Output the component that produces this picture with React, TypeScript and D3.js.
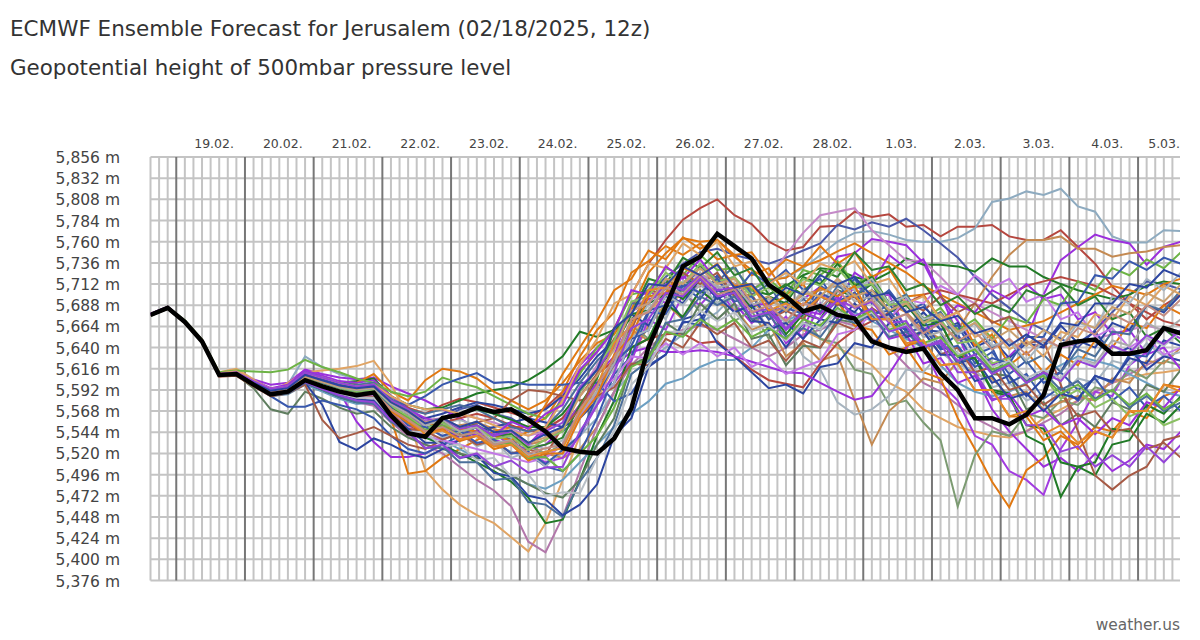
import React from 'react';
import * as d3 from 'd3';

const titleText = 'ECMWF Ensemble Forecast for Jerusalem (02/18/2025, 12z)';
const subtitleText = 'Geopotential height of 500mbar pressure level';
const creditText = 'weather.us';

const yTickValues = [5376, 5400, 5424, 5448, 5472, 5496, 5520, 5544, 5568, 5592, 5616, 5640, 5664, 5688, 5712, 5736, 5760, 5784, 5808, 5832, 5856];
const dayLabels = ['19.02.', '20.02.', '21.02.', '22.02.', '23.02.', '24.02.', '25.02.', '26.02.', '27.02.', '28.02.', '1.03.', '2.03.', '3.03.', '4.03.', '5.03.'];
// hours after first forecast point at which each labelled day starts
const dayStartHours = [9, 33, 57, 81, 105, 129, 153, 177, 201, 225, 249, 273, 297, 321, 345];
const stepHours = 6;
const totalHours = 360;

const control = [5677,5685,5669,5647,5609,5610,5598,5587,5590,5603,5596,5590,5586,5589,5563,5543,5539,5560,5564,5572,5567,5570,5558,5545,5526,5522,5520,5537,5571,5641,5686,5732,5743,5769,5755,5741,5711,5698,5681,5687,5677,5673,5647,5640,5635,5639,5611,5592,5560,5560,5553,5564,5586,5643,5647,5649,5633,5633,5637,5662,5656];

const members: number[][] = [
  [5678,5686,5670,5649,5611,5612,5602,5592,5595,5608,5603,5598,5596,5600, 5585,5572,5565,5575,5582,5578,5572,5566,5560,5572,5590,5612,5635, 5662,5700,5735,5762,5785,5798,5808, 5790,5780,5760,5750,5754,5777,5778,5794,5788,5791,5777,5779, 5766,5777,5777,5779,5766,5762,5762,5773,5754,5735,5709,5690,5672,5688,5700],
  [5677,5685,5670,5648,5610,5612,5601,5592,5598,5630,5618,5610,5604,5600, 5578,5560,5552,5548,5545,5540,5530,5522,5515,5510,5520,5540,5560, 5590,5610,5625,5640,5655,5668,5680, 5700,5705,5715,5720,5730,5745,5760,5770,5772,5768,5762,5760, 5760,5764,5775,5805,5809,5817,5813,5820,5800,5794,5766,5759,5759,5773,5772],
  [5677,5684,5669,5647,5609,5611,5599,5588,5592,5606,5600,5594,5590,5592, 5570,5555,5548,5560,5570,5575,5565,5560,5548,5540,5545,5560,5590, 5630,5670,5700,5720,5735,5748,5752, 5745,5740,5735,5742,5750,5758,5779,5774,5782,5777,5786,5773, 5758,5742,5720,5700,5685,5670,5660,5650,5640,5660,5680,5700,5715,5712,5706],
  [5678,5686,5670,5648,5611,5612,5604,5598,5600,5615,5610,5606,5604,5606, 5596,5588,5580,5570,5560,5548,5540,5535,5530,5550,5585,5620,5640, 5660,5680,5695,5700,5705,5710,5705, 5698,5690,5680,5686,5695,5709,5743,5747,5763,5760,5756,5736, 5698,5670,5640,5620,5630,5650,5700,5739,5754,5768,5762,5758,5734,5754,5760],
  [5676,5685,5669,5647,5610,5612,5600,5590,5592,5605,5598,5590,5585,5585, 5560,5545,5540,5548,5552,5555,5548,5540,5530,5520,5515,5525,5550, 5590,5630,5665,5690,5700,5710,5715, 5700,5690,5680,5685,5700,5705,5710,5705,5700,5690,5680,5660, 5650,5660,5690,5720,5745,5762,5762,5766,5752,5752,5743,5747,5749,5754,5756],
  [5677,5685,5669,5647,5609,5610,5600,5591,5593,5608,5604,5600,5602,5605, 5585,5575,5570,5572,5580,5588,5592,5595,5603,5615,5630,5658,5652, 5660,5672,5690,5700,5712,5718,5720, 5712,5705,5700,5710,5722,5730,5728,5720,5715,5725,5741,5734, 5734,5732,5726,5741,5732,5732,5720,5712,5705,5700,5695,5700,5710,5715,5712],
  [5677,5685,5669,5647,5610,5613,5602,5592,5596,5610,5604,5598,5600,5610, 5590,5580,5603,5616,5613,5605,5590,5580,5570,5580,5600,5625,5645, 5655,5683,5725,5747,5764,5760,5762, 5743,5728,5717,5719,5732,5739,5749,5758,5747,5736,5725,5710, 5700,5690,5680,5670,5660,5665,5670,5680,5690,5700,5710,5705,5700,5712,5718],
  [5677,5686,5670,5648,5612,5616,5604,5590,5600,5612,5614,5616,5619,5625, 5599,5560,5501,5479,5462,5450,5441,5425,5409,5441,5490,5540,5580, 5620,5650,5680,5700,5715,5720,5718, 5700,5690,5680,5670,5660,5650,5640,5630,5620,5600,5590,5570, 5560,5550,5545,5540,5538,5545,5560,5570,5580,5590,5600,5605,5610,5612,5615],
  [5677,5685,5669,5647,5608,5609,5597,5586,5588,5600,5592,5585,5578,5574, 5555,5540,5530,5520,5505,5490,5478,5460,5420,5408,5448,5500,5550, 5590,5620,5640,5655,5660,5665,5660, 5650,5640,5630,5640,5655,5660,5670,5665,5650,5640,5620,5600, 5590,5575,5560,5550,5540,5545,5555,5565,5580,5590,5600,5610,5620,5630,5625],
  [5678,5686,5670,5648,5611,5612,5602,5593,5597,5612,5606,5600,5596,5598, 5580,5565,5558,5560,5565,5560,5555,5548,5540,5545,5560,5590,5620, 5650,5680,5700,5715,5720,5722,5718, 5712,5705,5720,5745,5770,5790,5794,5798,5773,5756,5739,5738, 5720,5700,5690,5680,5670,5660,5650,5640,5645,5650,5655,5660,5665,5660,5655],
  [5677,5685,5669,5647,5609,5611,5600,5590,5596,5615,5605,5590,5556,5533, 5516,5516,5520,5530,5535,5540,5542,5530,5520,5515,5530,5560,5610, 5630,5690,5705,5690,5722,5700,5718, 5690,5668,5680,5645,5662,5700,5690,5725,5712,5745,5730,5740, 5700,5655,5610,5570,5545,5525,5505,5515,5500,5520,5500,5512,5530,5525,5545],
  [5677,5685,5669,5647,5610,5611,5601,5592,5594,5610,5605,5598,5594,5598, 5580,5565,5555,5548,5545,5540,5535,5530,5520,5510,5515,5540,5575, 5600,5625,5672,5660,5700,5688,5710, 5680,5690,5660,5675,5650,5690,5672,5712,5695,5700,5660,5640, 5600,5580,5540,5530,5500,5490,5473,5525,5555,5590,5585,5620,5635,5660,5650],
  [5676,5684,5668,5646,5608,5609,5597,5588,5590,5604,5597,5590,5587,5590, 5560,5497,5500,5515,5525,5535,5545,5550,5550,5560,5590,5630,5660, 5680,5725,5738,5755,5745,5758,5740, 5745,5722,5730,5700,5712,5680,5692,5665,5660,5632,5640,5612, 5605,5560,5525,5488,5459,5501,5515,5540,5530,5550,5545,5568,5560,5585,5592],
  [5677,5685,5669,5647,5609,5610,5599,5589,5591,5606,5600,5595,5591,5593, 5575,5560,5555,5552,5548,5545,5540,5535,5528,5520,5530,5560,5600, 5625,5665,5650,5688,5705,5680,5698, 5670,5682,5650,5668,5675,5650,5645,5615,5610,5575,5580,5555, 5535,5460,5518,5545,5540,5565,5560,5580,5575,5595,5590,5615,5605,5625,5620],
  [5677,5685,5669,5647,5609,5610,5598,5588,5590,5603,5597,5590,5586,5588, 5568,5550,5545,5548,5550,5545,5540,5535,5530,5535,5550,5575,5600, 5620,5660,5648,5690,5672,5705,5690, 5685,5660,5668,5630,5645,5625,5632,5580,5530,5568,5585,5605, 5600,5625,5610,5605,5585,5590,5570,5578,5585,5580,5605,5600,5625,5622,5640],
  [5677,5685,5669,5647,5609,5610,5600,5590,5592,5605,5600,5595,5592,5595, 5575,5560,5552,5555,5558,5552,5545,5538,5530,5525,5535,5560,5595, 5615,5655,5690,5672,5715,5700,5712, 5685,5692,5660,5668,5630,5615,5578,5564,5570,5585,5615,5612, 5635,5620,5615,5595,5600,5580,5588,5585,5605,5600,5625,5620,5645,5630,5635],
  [5676,5684,5668,5646,5608,5609,5597,5585,5587,5598,5590,5582,5576,5578, 5560,5545,5538,5535,5525,5515,5505,5495,5485,5480,5490,5510,5530, 5550,5565,5579,5599,5605,5618,5626, 5626,5640,5660,5670,5680,5685,5690,5680,5670,5660,5650,5640, 5620,5600,5590,5585,5590,5600,5610,5620,5630,5625,5620,5610,5600,5590,5585],
  [5677,5685,5669,5647,5609,5610,5599,5589,5590,5602,5596,5589,5585,5586, 5565,5550,5545,5555,5560,5565,5560,5552,5545,5548,5560,5585,5610, 5625,5640,5650,5655,5656,5645,5647, 5630,5615,5603,5599,5595,5622,5645,5660,5670,5680,5690,5700, 5705,5700,5695,5690,5700,5710,5715,5720,5715,5710,5700,5690,5680,5670,5665],
  [5677,5685,5669,5647,5609,5610,5600,5591,5594,5608,5603,5598,5594,5596, 5578,5565,5560,5565,5572,5578,5575,5570,5565,5570,5585,5605,5630, 5648,5678,5665,5700,5672,5678,5645, 5630,5612,5594,5598,5588,5618,5622,5645,5640,5668,5660,5680, 5660,5668,5640,5650,5628,5645,5640,5665,5645,5658,5632,5640,5615,5630,5625],
  [5678,5686,5670,5648,5610,5612,5603,5594,5598,5614,5608,5602,5600,5603, 5585,5570,5560,5555,5548,5540,5535,5530,5525,5530,5548,5575,5600, 5620,5635,5640,5635,5635,5637,5635, 5630,5624,5618,5612,5611,5600,5590,5581,5585,5610,5640,5660, 5670,5688,5680,5705,5695,5712,5695,5700,5672,5680,5655,5660,5632,5640,5615],
  [5678,5686,5671,5649,5612,5614,5613,5612,5615,5626,5618,5612,5605,5600, 5590,5585,5590,5606,5600,5595,5585,5575,5565,5560,5580,5610,5640, 5660,5700,5705,5730,5722,5745,5728, 5730,5705,5718,5700,5728,5722,5738,5712,5722,5690,5700,5672, 5685,5660,5672,5650,5675,5668,5695,5688,5715,5705,5730,5722,5740,5730,5748],
  [5677,5685,5669,5647,5609,5610,5597,5586,5588,5600,5592,5584,5578,5578, 5560,5545,5538,5530,5520,5510,5500,5488,5470,5441,5445,5490,5540, 5580,5640,5650,5690,5675,5705,5690, 5700,5670,5685,5655,5678,5672,5705,5698,5712,5680,5688,5665, 5668,5630,5628,5590,5585,5552,5548,5510,5505,5495,5530,5535,5565,5555,5575],
  [5677,5685,5669,5647,5608,5609,5594,5570,5565,5590,5582,5572,5565,5568, 5550,5538,5530,5525,5520,5515,5505,5495,5485,5475,5470,5490,5530, 5560,5620,5630,5668,5655,5690,5672, 5690,5650,5655,5620,5642,5640,5672,5668,5700,5680,5698,5672, 5680,5650,5648,5610,5608,5570,5578,5552,5565,5550,5578,5570,5598,5590,5615],
  [5677,5685,5669,5647,5609,5610,5598,5585,5573,5573,5580,5575,5570,5560, 5540,5525,5520,5530,5540,5550,5545,5535,5520,5505,5500,5520,5560, 5610,5630,5680,5678,5710,5695,5722, 5700,5712,5680,5692,5678,5710,5698,5718,5690,5705,5680,5690, 5660,5665,5632,5640,5600,5610,5582,5595,5580,5608,5600,5632,5630,5662,5658],
  [5677,5685,5669,5647,5609,5610,5598,5587,5590,5600,5575,5533,5524,5537, 5530,5520,5515,5525,5535,5545,5550,5555,5560,5555,5550,5560,5580, 5600,5650,5660,5700,5690,5718,5695, 5705,5670,5668,5640,5668,5660,5690,5680,5705,5690,5698,5660, 5658,5622,5628,5600,5608,5585,5605,5612,5648,5640,5668,5660,5688,5680,5700],
  [5677,5684,5668,5646,5607,5608,5596,5585,5588,5598,5558,5537,5543,5550, 5540,5530,5525,5535,5545,5555,5560,5580,5592,5590,5585,5580,5585, 5595,5622,5620,5650,5640,5668,5655, 5668,5640,5648,5625,5648,5640,5668,5660,5685,5672,5692,5682, 5698,5680,5690,5668,5675,5645,5648,5598,5545,5495,5479,5495,5505,5535,5540],
  [5677,5685,5669,5648,5610,5611,5600,5591,5594,5608,5604,5598,5596,5598, 5580,5575,5585,5598,5605,5611,5600,5601,5598,5598,5598,5600,5600, 5579,5588,5620,5632,5670,5665,5705, 5700,5725,5712,5728,5705,5718,5690,5702,5675,5690,5662,5672, 5640,5655,5622,5635,5610,5625,5600,5612,5592,5605,5580,5595,5572,5585,5568],
  [5677,5685,5669,5647,5609,5610,5599,5590,5592,5604,5600,5594,5592,5595, 5580,5565,5555,5550,5548,5545,5540,5535,5545,5575,5610,5640,5670, 5705,5718,5750,5740,5765,5752,5762, 5745,5748,5722,5740,5732,5755,5735,5748,5720,5730,5698,5700, 5672,5680,5642,5655,5620,5635,5612,5632,5620,5648,5640,5668,5662,5688,5678],
  [5677,5685,5669,5647,5609,5610,5598,5587,5589,5601,5594,5587,5583,5585, 5565,5550,5540,5535,5530,5525,5520,5515,5510,5515,5530,5560,5590, 5605,5630,5628,5645,5632,5645,5630, 5640,5618,5628,5610,5618,5625,5655,5660,5678,5672,5695,5690, 5710,5700,5722,5708,5718,5692,5700,5672,5680,5652,5662,5640,5652,5632,5640],
  [5677,5685,5669,5647,5609,5610,5600,5592,5596,5612,5606,5600,5598,5600, 5582,5570,5565,5570,5575,5570,5560,5550,5545,5550,5570,5600,5625, 5645,5690,5690,5718,5705,5732,5715, 5732,5700,5712,5680,5695,5680,5710,5698,5715,5690,5700,5670, 5680,5655,5668,5640,5648,5622,5632,5612,5638,5630,5658,5655,5688,5682,5705],
  [5677,5685,5669,5647,5609,5610,5599,5590,5593,5607,5601,5595,5591,5593, 5575,5560,5555,5560,5565,5570,5565,5558,5550,5550,5565,5590,5615, 5640,5678,5682,5708,5695,5718,5700, 5708,5685,5698,5690,5720,5712,5735,5710,5720,5690,5698,5672, 5668,5630,5628,5592,5588,5540,5530,5471,5505,5510,5548,5545,5575,5565,5585],
  [5677,5686,5670,5648,5611,5613,5603,5593,5596,5610,5606,5600,5596,5598, 5585,5575,5570,5570,5565,5560,5552,5545,5540,5550,5580,5620,5650, 5690,5700,5735,5730,5758,5745,5760, 5732,5738,5712,5725,5712,5735,5728,5738,5712,5718,5690,5698, 5672,5680,5652,5660,5638,5648,5630,5658,5652,5678,5672,5698,5688,5710,5700],
  [5677,5685,5669,5647,5609,5610,5598,5588,5590,5604,5597,5590,5586,5588, 5570,5552,5555,5538,5545,5528,5535,5515,5522,5505,5525,5540,5580, 5600,5652,5660,5700,5688,5712,5690, 5700,5672,5685,5668,5698,5688,5718,5705,5718,5690,5698,5672, 5678,5655,5668,5642,5648,5625,5648,5640,5668,5662,5698,5690,5718,5705,5725],
  [5677,5685,5669,5647,5609,5610,5599,5589,5591,5605,5599,5593,5589,5591, 5572,5560,5548,5556,5550,5552,5540,5542,5526,5530,5538,5575,5605, 5660,5678,5718,5712,5742,5730,5748, 5722,5730,5700,5712,5700,5728,5720,5748,5728,5732,5705,5712, 5688,5698,5678,5688,5680,5705,5698,5710,5688,5698,5672,5680,5652,5662,5645],
  [5678,5686,5670,5648,5610,5611,5601,5592,5594,5610,5603,5596,5592,5594, 5576,5565,5548,5552,5536,5545,5540,5556,5548,5565,5575,5615,5635, 5660,5705,5700,5732,5718,5740,5715, 5720,5688,5690,5660,5682,5678,5698,5672,5678,5650,5655,5622, 5628,5600,5608,5580,5588,5562,5570,5552,5560,5542,5560,5552,5578,5572,5595],
  [5677,5685,5669,5647,5609,5610,5598,5588,5589,5602,5595,5588,5583,5584, 5565,5548,5545,5536,5542,5530,5535,5520,5525,5518,5550,5570,5610, 5650,5660,5705,5700,5725,5712,5725, 5698,5700,5672,5682,5672,5698,5688,5698,5672,5678,5652,5658, 5632,5640,5612,5618,5592,5598,5575,5588,5562,5568,5545,5548,5525,5532,5515],
  [5677,5685,5669,5647,5609,5610,5600,5590,5592,5606,5600,5594,5590,5592, 5574,5562,5548,5555,5544,5550,5536,5540,5524,5536,5545,5590,5615, 5648,5692,5698,5725,5712,5735,5715, 5720,5698,5708,5695,5718,5710,5730,5708,5712,5688,5692,5668, 5672,5645,5648,5622,5628,5602,5608,5582,5592,5572,5582,5562,5570,5552,5560],
  [5677,5685,5669,5647,5609,5610,5599,5589,5592,5606,5599,5592,5588,5590, 5572,5552,5550,5540,5546,5532,5536,5520,5522,5508,5524,5540,5585, 5622,5642,5682,5688,5712,5702,5718, 5692,5698,5672,5685,5678,5702,5692,5702,5678,5682,5658,5662, 5638,5642,5618,5628,5622,5652,5652,5690,5692,5722,5718,5738,5728,5742,5735],
  [5677,5685,5669,5647,5609,5610,5600,5591,5593,5608,5601,5595,5592,5594, 5576,5565,5552,5558,5545,5550,5532,5535,5518,5522,5526,5565,5590, 5622,5672,5682,5712,5700,5725,5708, 5712,5688,5695,5682,5705,5698,5715,5692,5698,5672,5678,5652, 5658,5632,5638,5612,5622,5600,5612,5602,5628,5622,5648,5642,5668,5658,5672],
  [5677,5685,5669,5647,5609,5610,5598,5588,5590,5603,5596,5590,5586,5588, 5568,5555,5542,5548,5534,5540,5525,5530,5512,5520,5520,5560,5585, 5632,5652,5698,5702,5730,5722,5735, 5710,5712,5688,5698,5688,5708,5698,5710,5672,5672,5642,5648, 5620,5622,5592,5592,5562,5562,5535,5545,5525,5545,5538,5568,5568,5598,5595],
  [5677,5685,5669,5647,5609,5610,5597,5586,5588,5600,5592,5584,5578,5576, 5556,5544,5526,5528,5510,5510,5490,5492,5465,5462,5448,5488,5515, 5552,5610,5625,5668,5672,5698,5688, 5698,5672,5678,5652,5662,5652,5678,5668,5678,5652,5658,5638, 5648,5622,5632,5612,5622,5602,5612,5592,5602,5582,5592,5572,5585,5568,5578],
  [5677,5685,5669,5647,5609,5610,5598,5587,5589,5601,5594,5586,5581,5580, 5560,5548,5532,5532,5515,5518,5498,5494,5472,5468,5450,5462,5485, 5540,5560,5618,5632,5668,5672,5698, 5680,5688,5660,5668,5650,5672,5668,5690,5670,5678,5652,5658, 5632,5632,5602,5608,5582,5588,5568,5588,5582,5608,5602,5628,5622,5648,5642],
  [5677,5685,5669,5647,5609,5610,5598,5588,5590,5602,5595,5588,5583,5583, 5562,5545,5544,5528,5530,5512,5515,5494,5496,5472,5476,5475,5515, 5545,5598,5618,5658,5658,5682,5670, 5680,5658,5665,5648,5668,5660,5682,5670,5680,5658,5665,5642, 5652,5632,5640,5618,5625,5605,5615,5605,5628,5620,5642,5632,5652,5642,5658],
  [5677,5685,5669,5647,5609,5610,5599,5589,5591,5605,5598,5592,5588,5590, 5570,5560,5546,5552,5540,5544,5530,5532,5515,5516,5500,5520,5540, 5572,5618,5628,5658,5652,5672,5660, 5672,5652,5662,5650,5672,5665,5685,5672,5682,5660,5668,5645, 5652,5630,5638,5615,5622,5600,5608,5588,5598,5580,5592,5575,5588,5570,5582],
  [5678,5686,5670,5648,5610,5612,5602,5593,5596,5612,5606,5600,5596,5598, 5580,5570,5556,5560,5548,5552,5540,5545,5530,5545,5555,5595,5615, 5642,5682,5690,5712,5705,5722,5705, 5708,5680,5684,5662,5680,5672,5695,5685,5692,5668,5670,5642, 5645,5612,5612,5582,5582,5552,5552,5522,5528,5505,5518,5505,5528,5510,5530],
  [5677,5685,5669,5647,5609,5610,5598,5588,5590,5603,5597,5591,5587,5589, 5570,5558,5542,5546,5536,5540,5528,5530,5516,5522,5526,5566,5596, 5645,5665,5705,5708,5732,5722,5735, 5708,5710,5682,5690,5680,5698,5690,5700,5672,5672,5645,5648, 5620,5622,5592,5592,5562,5568,5542,5552,5532,5545,5538,5568,5568,5598,5590],
  [5677,5685,5669,5647,5609,5610,5599,5590,5593,5607,5601,5596,5593,5595, 5578,5568,5555,5560,5550,5556,5544,5546,5532,5538,5548,5585,5608, 5638,5682,5690,5718,5712,5730,5712, 5718,5692,5698,5682,5702,5698,5718,5698,5705,5682,5690,5668, 5678,5658,5668,5648,5660,5642,5660,5648,5670,5662,5686,5678,5702,5692,5712],
  [5677,5685,5669,5647,5609,5610,5599,5589,5591,5604,5597,5591,5587,5589, 5570,5558,5545,5550,5540,5544,5530,5534,5520,5526,5530,5570,5596, 5628,5672,5680,5708,5700,5720,5700, 5706,5680,5688,5670,5690,5685,5705,5686,5694,5670,5678,5656, 5668,5648,5658,5638,5650,5632,5650,5640,5662,5655,5678,5668,5688,5676,5695],
  [5677,5685,5669,5647,5609,5610,5600,5591,5594,5609,5603,5597,5594,5596, 5578,5568,5554,5560,5550,5556,5544,5546,5532,5542,5550,5592,5615, 5662,5678,5712,5710,5732,5722,5734, 5708,5712,5690,5708,5700,5722,5712,5720,5698,5702,5680,5686, 5670,5676,5656,5662,5642,5655,5642,5668,5665,5690,5690,5712,5708,5728,5720],
  [5677,5685,5669,5647,5609,5610,5598,5587,5589,5601,5593,5586,5580,5578, 5558,5545,5526,5530,5515,5520,5505,5512,5498,5504,5505,5545,5575, 5612,5662,5672,5702,5698,5718,5698, 5702,5675,5680,5660,5680,5672,5694,5676,5684,5658,5664,5640, 5648,5625,5632,5610,5620,5600,5612,5602,5625,5618,5642,5634,5654,5644,5660],
];

const memberColors = [
  '#b5473f', '#8eabc0', '#4a58a8', '#9b30dc', '#c48a52', '#217a26', '#e07812', '#e0a464', '#b277aa', '#c489c8',
  '#9b30dc', '#a23ce0', '#e07812', '#7c9b72', '#c48a52', '#a7b4bf', '#6c9fc2', '#b5473f', '#2c45a0', '#9b30dc',
  '#6db345', '#217a26', '#5f7d5f', '#3858ad', '#2c45a0', '#a65a45', '#3858ad', '#e07812', '#c278e6', '#4b6f9a',
  '#217a26', '#e0a464', '#a7b4bf', '#2e8030', '#9b30dc', '#a65a45', '#8abf62', '#3858ad', '#aaaaaa', '#e07812',
  '#4b6f9a', '#2c45a0', '#b8bfc6', '#6db345', '#9444d8', '#e58a2a', '#c9a070', '#c48c80', '#2c45a0', '#9444d8',
];

const PL = 150.5, PR = 1180, PT = 157, PB = 580.5;

export default function App() {
  const x = d3.scaleLinear().domain([0, totalHours]).range([PL, 1181]);
  const y = d3.scaleLinear().domain([5376, 5856]).range([PB, PT]);
  const line = d3.line<number>().x((_, i) => x(i * stepHours)).y((d) => y(d));
  const thinHours = d3.range(0, totalHours, 3).filter((h) => (h - 9) % 24 !== 0);
  const fmt = d3.format(',');
  const font = 'DejaVu Sans, Verdana, sans-serif';

  return (
    <svg width={1200} height={640} style={{ position: 'absolute', left: 0, top: 0, background: '#fff' }} fontFamily={font}>
      <defs>
        <clipPath id="plotClip">
          <rect x={PL} y={PT - 20} width={PR - PL} height={PB - PT + 40} />
        </clipPath>
      </defs>
      <text x={10} y={36} fontSize={21.5} fill="#333">{titleText}</text>
      <text x={10} y={75} fontSize={21.4} fill="#333">{subtitleText}</text>

      {yTickValues.map((v) => (
        <line key={'h' + v} x1={PL} x2={PR} y1={y(v)} y2={y(v)} stroke="#c4c4c4" strokeWidth={2} />
      ))}
      {thinHours.map((h) => (
        <line key={'v' + h} x1={x(h)} x2={x(h)} y1={PT} y2={PB} stroke="#c4c4c4" strokeWidth={2} />
      ))}
      {dayStartHours.map((h) => (
        <line key={'d' + h} x1={x(h)} x2={x(h)} y1={PT} y2={PB} stroke="#777" strokeWidth={2} />
      ))}

      {yTickValues.map((v) => (
        <text key={'yl' + v} x={120} y={y(v) + 6} textAnchor="end" fontSize={15.5} fill="#444">{fmt(v) + ' m'}</text>
      ))}
      {dayLabels.map((lab, i) => {
        const cx = x(dayStartHours[i] + 12) + 3.5;
        const last = i === dayLabels.length - 1;
        return (
          <text key={'dl' + lab} x={last ? PR : cx} y={148} textAnchor={last ? 'end' : 'middle'} fontSize={12.5} fill="#444">{lab}</text>
        );
      })}

      <g clipPath="url(#plotClip)" fill="none" strokeLinejoin="miter">
        {members.map((m, i) => (
          <path key={'m' + i} d={line(m) || ''} stroke={memberColors[i % memberColors.length]} strokeWidth={2} />
        ))}
        <path d={line(control) || ''} stroke="#000" strokeWidth={4.5} />
      </g>

      <text x={1180} y={630} textAnchor="end" fontSize={15.4} fill="#666">{creditText}</text>
    </svg>
  );
}
